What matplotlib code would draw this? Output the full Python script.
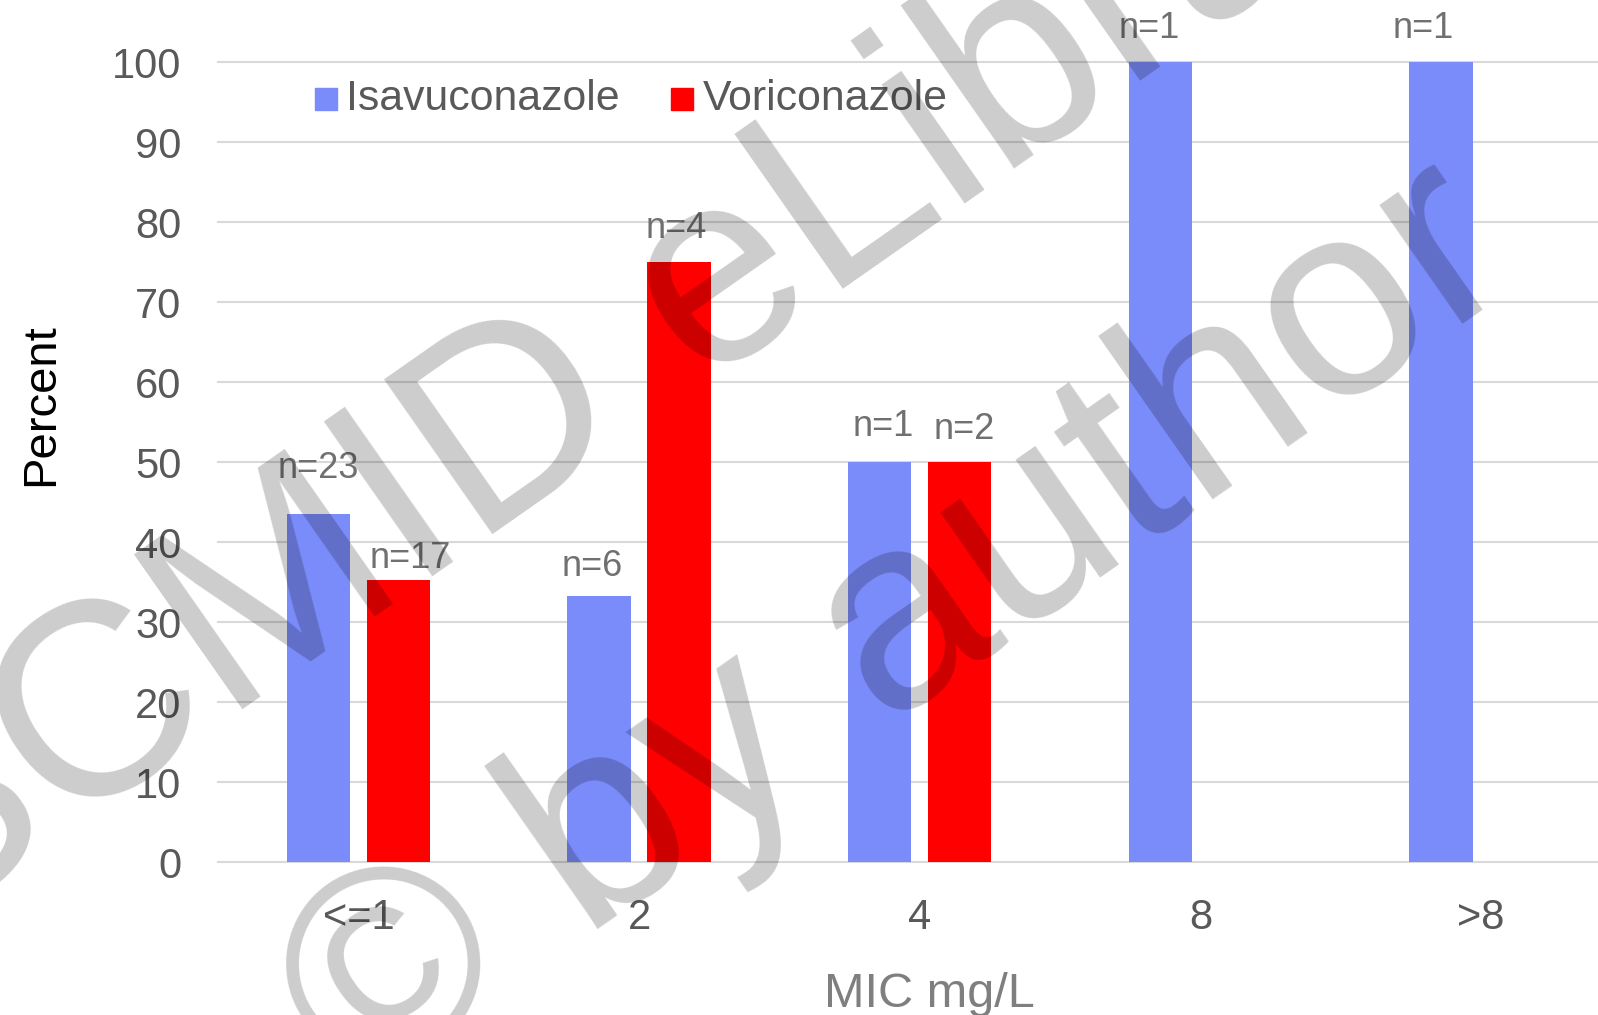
import numpy as np
import matplotlib
matplotlib.use('Agg')
import matplotlib.pyplot as plt
from matplotlib.patches import Rectangle
from matplotlib.legend_handler import HandlerPatch

# ---------------- data ----------------
categories = ['<=1', '2', '4', '8', '>8']
isavuconazole = [43.5, 33.3, 50.0, 100.0, 100.0]
voriconazole = [35.3, 75.0, 50.0, np.nan, np.nan]
isa_counts = ['n=23', 'n=6', 'n=1', 'n=1', 'n=1']
vori_counts = ['n=17', 'n=4', 'n=2', '', '']
yticks = list(range(0, 101, 10))
series_names = ['Isavuconazole', 'Voriconazole']
x_title = 'MIC mg/L'
y_title = 'Percent'
watermark = ['ESCMID eLibrary', '\u00a9 by author']

# ---------------- layout nudges for count labels (px: dx, baseline above bar top) ----
isa_nudge = [(0, 36), (-7, 20), (3, 26), (-11, 24), (-18, 24)]
vori_nudge = [(12, 12), (-3, 24), (5, 23), (0, 0), (0, 0)]

W, H, DPI = 1598, 1015, 100
PX = 72.0 / DPI
plt.rcParams['font.family'] = ['Liberation Sans', 'DejaVu Sans']

fig = plt.figure(figsize=(W / DPI, H / DPI), dpi=DPI)
fig.patch.set_facecolor('white')
ax = fig.add_axes([218 / W, 1 - 862.3 / H, 1403.5 / W, 800.3 / H])

blue = '#7A8BFA'
red = '#FF0000'
x = np.arange(len(categories))
bw = 0.226
off = 0.1424
ax.bar(x - off, isavuconazole, bw, color=blue, zorder=2, linewidth=0)
ax.bar(x + off, voriconazole, bw, color=red, zorder=2, linewidth=0)

ax.set_xlim(-0.5, len(categories) - 0.5)
ax.set_ylim(0, 100)
ax.set_yticks(yticks)
ax.set_xticks(x, categories)
ax.yaxis.grid(True, color='#d9d9d9', linewidth=1.5)
ax.xaxis.grid(False)
ax.set_axisbelow(True)
for line in ax.get_ygridlines():
    line.set_clip_on(False)
for s in ax.spines.values():
    s.set_visible(False)
ax.tick_params(length=0, labelsize=30, labelcolor='#595959')
ax.tick_params(axis='y', pad=26.5)
ax.tick_params(axis='x', pad=25.5)

lab_color = '#707070'
for i in range(len(categories)):
    for vals, counts, nudges, sign in ((isavuconazole, isa_counts, isa_nudge, -1),
                                       (voriconazole, vori_counts, vori_nudge, 1)):
        v = vals[i]
        if counts[i] and not np.isnan(v):
            dx, dy = nudges[i]
            ax.annotate(counts[i], xy=(x[i] + sign * off, v),
                        xytext=(dx * PX, dy * PX), textcoords='offset points',
                        ha='center', va='baseline', fontsize=26, color=lab_color,
                        annotation_clip=False, zorder=5)


def square(legend, orig_handle, xdescent, ydescent, width, height, fontsize):
    return Rectangle((-xdescent, -ydescent), width, width)


handles = [Rectangle((0, 0), 1, 1, color=blue), Rectangle((0, 0), 1, 1, color=red)]
fig.legend(handles, series_names, loc='center left',
           bbox_to_anchor=(315 / W, 1 - 98.5 / H), ncol=2, frameon=False,
           fontsize=30.8, handlelength=0.51, handleheight=0.7, handletextpad=0.22,
           columnspacing=1.2, borderpad=0, borderaxespad=0, labelcolor='#595959',
           handler_map={Rectangle: HandlerPatch(patch_func=square)})

fig.text(929 / W, 1 - 1006.7 / H, x_title, ha='center', va='baseline',
         fontsize=35, color='#7f7f7f')
fig.text(41 / W, 1 - 405 / H, y_title, rotation=90, ha='center', va='center',
         fontsize=34, color='black')

# watermark
fig.text(-239 / W, 1 - 1046.7 / H, watermark[0], rotation=35, rotation_mode='anchor',
         ha='left', va='baseline', fontsize=198, color='black', alpha=0.2, zorder=20)
fig.text(355 / W, 1 - 1099 / H, watermark[1], rotation=35, rotation_mode='anchor',
         ha='left', va='baseline', fontsize=198, color='black', alpha=0.2, zorder=20)

fig.savefig('out.png', dpi=DPI)
